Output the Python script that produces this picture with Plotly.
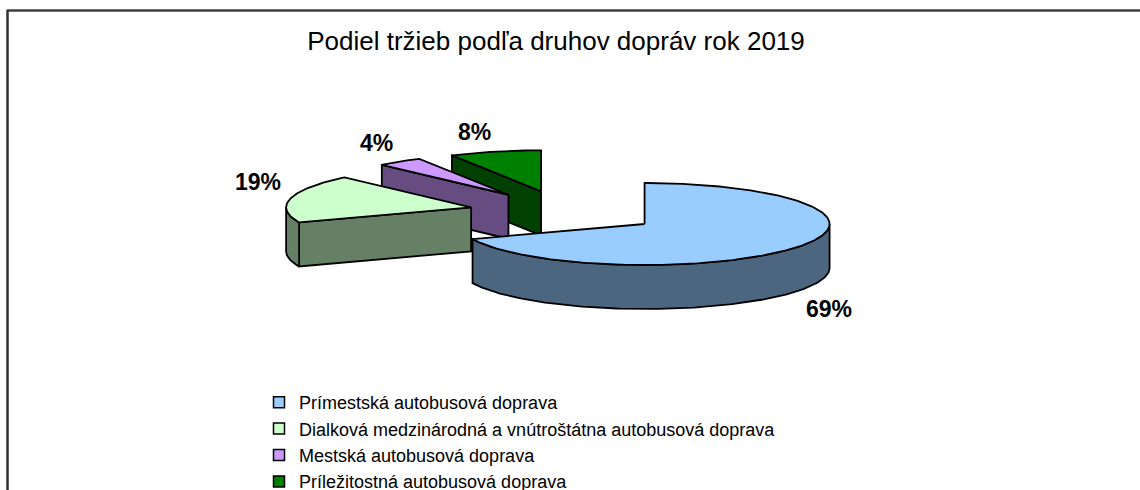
import numpy as np
import plotly.graph_objects as go

# ---------------- data ----------------
categories = [
    "Prímestská autobusová doprava",
    "Dialková medzinárodná a vnútroštátna autobusová doprava",
    "Mestská autobusová doprava",
    "Príležitostná autobusová doprava",
]
shares = [69, 19, 4, 8]
top_colors = ["#99CCFF", "#CCFFCC", "#CC99FF", "#008000"]
title_text = "Podiel tržieb podľa druhov dopráv rok 2019"

# ---------------- geometry / style ----------------
W, H = 1140, 490
CX, CY = 565, 212      # pie centre (pixels)
RX, RY = 185, 41       # ellipse radii of the tilted pie
DEPTH = 44             # thickness of the 3D pie
EXPLODE = 0.52         # explosion as fraction of radius
FONT = "Liberation Sans, Arial, sans-serif"


def darker(hexc, f=0.5):
    h = hexc.lstrip("#")
    r, g, b = (int(h[i:i + 2], 16) for i in (0, 2, 4))
    return "rgb(%d,%d,%d)" % (round(r * f), round(g * f), round(b * f))


def arc(apex, a, b, dy=0.0, n=None):
    if n is None:
        n = max(3, int(abs(b - a) / np.pi * 180) + 2)
    th = np.linspace(a, b, n)
    return list(apex[0] + RX * np.sin(th)), list(apex[1] - RY * np.cos(th) + dy)


total = float(sum(shares))
cum = np.concatenate([[0.0], np.cumsum(shares) / total]) * 2 * np.pi

slices = []
for i, v in enumerate(shares):
    a0, a1 = cum[i], cum[i + 1]
    mid = (a0 + a1) / 2
    apex = (CX + EXPLODE * RX * np.sin(mid), CY - EXPLODE * RY * np.cos(mid))
    slices.append(dict(i=i, a0=a0, a1=a1, mid=mid, apex=apex))

fig = go.Figure()


def poly(xs, ys, color):
    fig.add_trace(go.Scatter(
        x=xs, y=ys, mode="lines", fill="toself", fillcolor=color,
        line=dict(color="black", width=1.8), showlegend=False,
        hoverinfo="skip"))


# draw back-to-front
for s in sorted(slices, key=lambda s: s["apex"][1]):
    ax, ay = s["apex"]
    top = top_colors[s["i"]]
    side = darker(top)
    # radial faces (only visible ones)
    for a, vis in ((s["a0"], np.sin(s["a0"]) < -1e-6),
                   (s["a1"], np.sin(s["a1"]) > 1e-6)):
        if vis:
            px, py = ax + RX * np.sin(a), ay - RY * np.cos(a)
            poly([ax, px, px, ax, ax], [ay, py, py + DEPTH, ay + DEPTH, ay], side)
    # curved outer side (front half only)
    lo, hi = max(s["a0"], np.pi / 2), min(s["a1"], 3 * np.pi / 2)
    if hi > lo:
        tx, ty = arc(s["apex"], lo, hi)
        bx, by = arc(s["apex"], hi, lo, dy=DEPTH)
        poly(tx + bx + [tx[0]], ty + by + [ty[0]], side)
    # top face
    tx, ty = arc(s["apex"], s["a0"], s["a1"])
    poly([ax] + tx + [ax], [ay] + ty + [ay], top)

# percentage labels
for s in slices:
    ax, ay = s["apex"]
    sn, cs = np.sin(s["mid"]), np.cos(s["mid"])
    px = ax + (RX + 8) * sn
    py = ay - (RY + 5) * cs + (DEPTH if cs < 0 else 0)
    xa = "left" if sn > 0 else "right"
    ya = "bottom" if cs > 0.15 else ("top" if cs < -0.15 else "middle")
    fig.add_annotation(
        x=px, y=py, text="<b>%d%%</b>" % round(shares[s["i"]] / total * 100),
        showarrow=False, xanchor=xa, yanchor=ya,
        font=dict(family=FONT, size=23, color="black"))

# legend entries
for cat, col in zip(categories, top_colors):
    fig.add_trace(go.Scatter(
        x=[None], y=[None], mode="markers", name=cat,
        marker=dict(symbol="square", size=11, color=col,
                    line=dict(color="black", width=1.5))))

# frame lines (chart area border)
fig.add_shape(type="line", x0=7, x1=W, y0=10.5, y1=10.5,
              line=dict(color="#404040", width=2.5))
fig.add_shape(type="line", x0=7.5, x1=7.5, y0=10, y1=H,
              line=dict(color="#303030", width=2.5))

fig.update_layout(
    width=W, height=H,
    margin=dict(l=0, r=0, t=0, b=0, autoexpand=False),
    paper_bgcolor="white", plot_bgcolor="white",
    title=dict(text=title_text, x=556 / W, xanchor="center",
               y=1 - 41 / H, yanchor="middle",
               font=dict(family=FONT, size=26, color="black")),
    xaxis=dict(range=[0, W], visible=False, fixedrange=True),
    yaxis=dict(range=[H, 0], visible=False, fixedrange=True),
    showlegend=True,
    legend=dict(x=259 / W, y=1 - 384 / H, xanchor="left", yanchor="top",
                bgcolor="rgba(0,0,0,0)", borderwidth=0,
                font=dict(family=FONT, size=18, color="black"),
                itemwidth=30, tracegroupgap=0),
)

fig.write_html("out.html", config={"displayModeBar": False},
               post_script="document.body.style.margin='0px';")
